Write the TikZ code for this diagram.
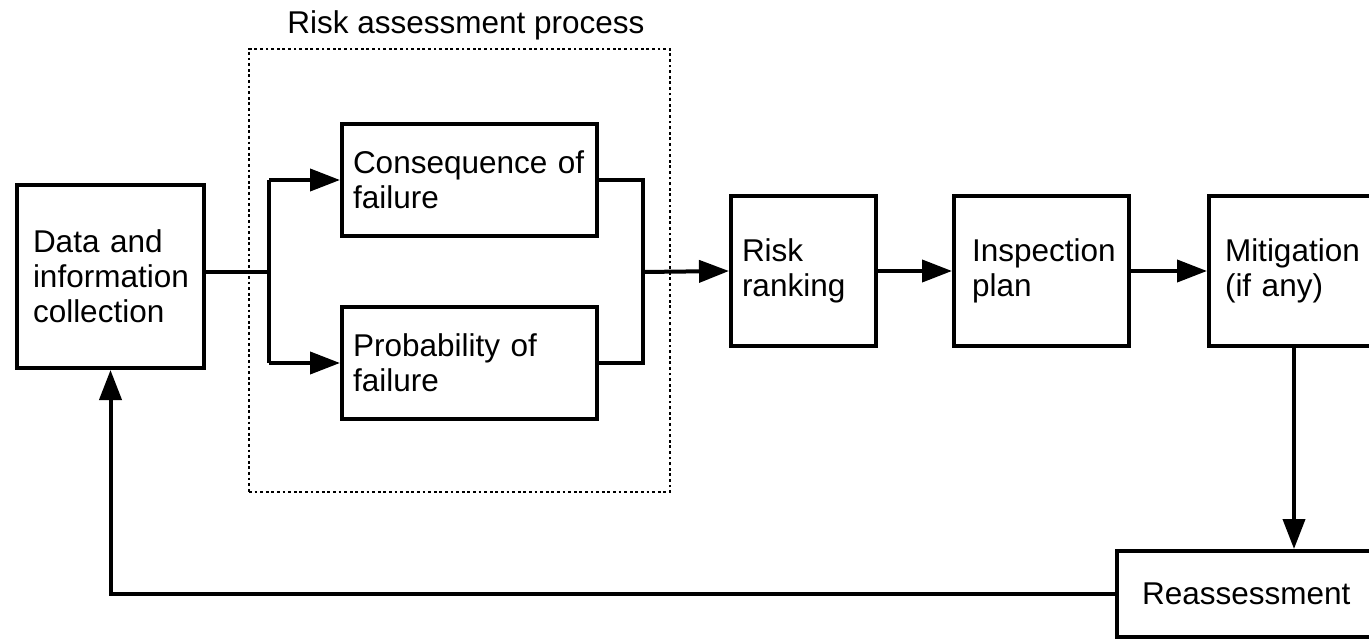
\documentclass[tikz,border=0pt]{standalone}
\usepackage{fontspec}
\setmainfont{Liberation Sans}
\usetikzlibrary{arrows.meta}
\begin{document}
\begin{tikzpicture}[x=1pt,y=-1pt,
  every node/.style={font=\fontsize{31.5}{35}\selectfont},
  box/.style={draw=black, line width=4pt, align=left, inner ysep=0pt},
  dotbox/.style={draw=black, line width=2.6pt, dash pattern=on 2.8pt off 2.8pt, inner sep=0pt},
  conn/.style={line width=4pt},
  arr/.style={line width=4pt, -{Triangle[length=30pt,width=22pt]}}]
\useasboundingbox (0,0) rectangle (1369,639);
\clip (0,0) rectangle (1369,639);
% group frame and title
\node[dotbox, minimum width=421pt, minimum height=443pt] (rap) at (459.5,270.5) {};
\node (title) at (466,25) {Risk assessment process};
% boxes
\node[box, inner xsep=16pt, text width=155pt, minimum height=183pt] (data) at (110.5,276.5) {Data and\\information\\collection};
\node[box, inner xsep=11pt, text width=233pt, minimum height=112pt] (cof) at (469.5,180) {Consequence of\\failure};
\node[box, inner xsep=11pt, text width=233pt, minimum height=112pt] (pof) at (469.5,363) {Probability of\\failure};
\node[box, inner xsep=11pt, text width=123pt, minimum height=150pt] (risk) at (803.5,271) {Risk\\ranking};
\node[box, inner xsep=18pt, text width=139pt, minimum height=150pt] (insp) at (1041.5,271) {Inspection\\plan};
\node[box, inner xsep=16pt, text width=188pt, minimum height=150pt] (mit) at (1319,271) {Mitigation\\(if any)};
\node[box, inner xsep=25pt, text width=250pt, minimum height=86pt] (reas) at (1267,594) {Reassessment};
% junctions
\coordinate (j1) at (269,272);
\coordinate (j2) at (643,272);
\coordinate (j3) at (1294,0);
% connectors
\draw[conn] (data.east |- j1) -- (j1);
\draw[conn] (j1 |- cof.west) -- (j1 |- pof.west);
\draw[arr] (j1 |- cof.west) -- (cof.west);
\draw[arr] (j1 |- pof.west) -- (pof.west);
\draw[conn] (cof.east) -- (j2 |- cof.east) -- (j2 |- pof.east) -- (pof.east);
\draw[arr] (j2) -- (risk.west);
\draw[arr] (risk.east) -- (insp.west);
\draw[arr] (insp.east) -- (mit.west);
\draw[arr] (j3 |- mit.south) -- (j3 |- reas.north);
\draw[arr] (reas.west) -| (data.south);
\end{tikzpicture}
\end{document}
